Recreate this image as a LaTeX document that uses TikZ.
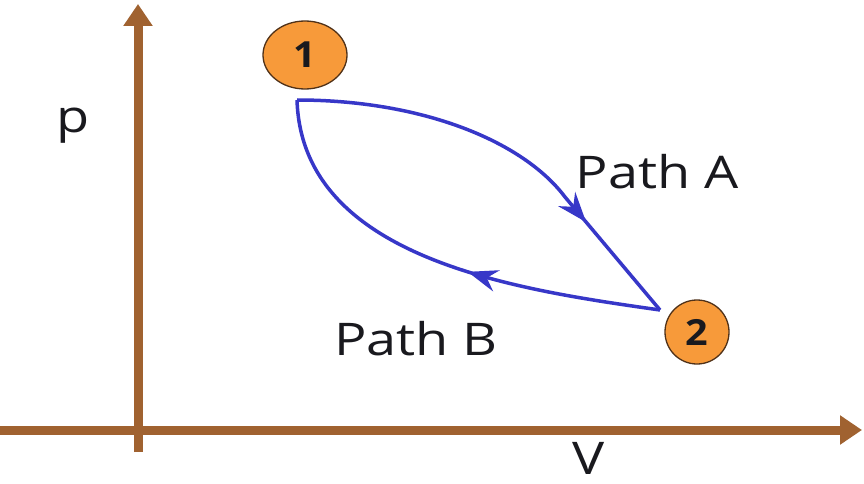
\documentclass[tikz,border=0pt]{standalone}
\usepackage{fontspec}
\setmainfont{Open Sans}
\usetikzlibrary{arrows.meta,decorations.markings,shapes.geometric}
\definecolor{axbrown}{RGB}{160,98,48}
\definecolor{pathblue}{RGB}{55,55,200}
\definecolor{ptorange}{RGB}{247,154,58}
\definecolor{ptborder}{RGB}{80,50,25}
\definecolor{txt}{RGB}{25,25,30}
\begin{document}
\begin{tikzpicture}[x=1pt,y=-1pt,
  axis/.style={draw=axbrown,line width=9pt,-{Triangle[length=22pt,width=28pt]}},
  curve/.style={draw=pathblue,line width=3.5pt},
  midarrow/.style={postaction={decorate},decoration={markings,mark=at position #1 with {\arrow{Stealth[length=30pt,width=22pt,inset=10pt]}}}},
  point/.style={ellipse,fill=ptorange,draw=ptborder,line width=1.3pt,inner sep=0pt,text=txt,font=\fontsize{36}{42}\selectfont\bfseries},
  lbl/.style={font=\fontsize{45}{54}\selectfont,inner sep=0pt,text=txt,xscale=1.2}]
\useasboundingbox (0,0) rectangle (864,484);
\fill[white] (0,0) rectangle (864,484);
\coordinate (ybot) at (138,452);
\coordinate (ytop) at (138,4);
\coordinate (xl) at (0,430);
\coordinate (xr) at (862,430);
\draw[axis] (ybot) -- (ytop);
\draw[axis] (xl) -- (xr);
\coordinate (p1) at (297,100);
\coordinate (p2) at (660,310);
\draw[curve,midarrow=0.74] (p1) .. controls (420,100) and (522,140) .. (565,197) -- (p2);
\draw[curve,midarrow=0.43] (p2) .. controls (520,290) and (302,260) .. (p1);
\node[point,minimum width=84pt,minimum height=68pt] (n1) at (305,55) {\scalebox{1.1}[1]{1}};
\node[point,minimum width=64pt,minimum height=64pt] (n2) at (697,332) {\scalebox{1.1}[1]{2}};
\node[lbl,anchor=base] (lp) at (73,132) {p};
\node[lbl,anchor=base] (la) at (657,188) {Path A};
\node[lbl,anchor=base] (lb) at (416,355) {Path B};
\node[lbl,anchor=base] (lv) at (589,474) {V};
\end{tikzpicture}
\end{document}
